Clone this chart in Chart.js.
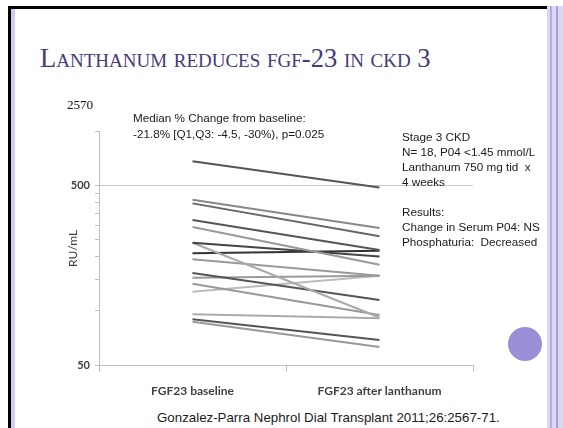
<!DOCTYPE html>
<html>
<head>
<meta charset="utf-8">
<script src="https://cdn.jsdelivr.net/npm/chart.js@4.4.1/dist/chart.umd.min.js"></script>
<style>
  html, body { margin: 0; padding: 0; background: #fff; }
  #slide { position: relative; width: 563px; height: 428px; overflow: hidden; background: #fff; font-family: "Liberation Sans", Arial, sans-serif; color: #222; }
  .frame-top { position: absolute; left: 8px; top: 6px; width: 539px; height: 3px; background: #000; }
  .frame-left { position: absolute; left: 8px; top: 6px; width: 3px; height: 422px; background: #000; }
  .frame-left-in { position: absolute; left: 11px; top: 9px; width: 4px; height: 419px; background: #d0ccec; }
  .frame-right { position: absolute; left: 547px; top: 6px; width: 16px; height: 422px;
    background: linear-gradient(to right, #dcd8f2 0 3px, #b6aee0 3px 5px, #dcd8f2 5px 9px, #a9a0da 9px 11px, #dcd8f2 11px 16px); }
  .title { position: absolute; left: 40px; top: 43px; font-family: "Liberation Serif", serif; font-size: 26.6px; font-variant: small-caps; color: #463a78; white-space: nowrap; }
  .odd { position: absolute; left: 67px; top: 97px; font-family: "Liberation Serif", serif; font-size: 13px; color: #111; }
  .note { position: absolute; font-size: 11.7px; line-height: 15.5px; white-space: nowrap; color: #1a1a1a; }
  .cite { position: absolute; left: 157px; top: 410px; font-size: 13.3px; white-space: nowrap; color: #1a1a1a; }
  .dot { position: absolute; left: 508px; top: 327px; width: 34px; height: 34px; border-radius: 50%; background: #9a8fd6; }
  #wrap { position: absolute; left: 40px; top: 120px; width: 440px; height: 290px; }
</style>
</head>
<body>
<div id="slide">
  <div class="frame-top"></div>
  <div class="frame-left"></div>
  <div class="frame-left-in"></div>
  <div class="frame-right"></div>
  <div class="title">Lanthanum reduces fgf-23 in ckd 3</div>
  <div class="odd">2570</div>
  <div id="wrap"><canvas id="chart"></canvas></div>
  <div class="note" style="left:133px; top:110px;">Median % Change from baseline:<br>-21.8% [Q1,Q3: -4.5, -30%), p=0.025</div>
  <div class="note" style="left:402px; top:129px; line-height:15px;">Stage 3 CKD<br>N= 18, P04 &lt;1.45 mmol/L<br>Lanthanum 750 mg tid&nbsp; x<br>4 weeks<br><br>Results:<br>Change in Serum P04: NS<br>Phosphaturia:&nbsp; Decreased</div>
  <div class="cite">Gonzalez-Parra Nephrol Dial Transplant 2011;26:2567-71.</div>
  <div class="dot"></div>
</div>
<script>
// categories and per-patient FGF-23 values (RU/mL)
const categories = ['FGF23 baseline', 'FGF23 after lanthanum'];
const baseline = [683, 417, 398, 322, 294, 240, 240, 210, 194, 163, 153, 142, 128, 96, 90, 87];
const afterLa  = [488, 290, 261, 219, 181, 201, 92, 217, 157, 115, 157, 95, 157, 91, 69, 63];
const lineColors = ['#555', '#888', '#666', '#555', '#999', '#444', '#aaa', '#333',
                    '#999', '#555', '#999', '#999', '#bbb', '#aaa', '#555', '#999'];

// y axis ticks: only 50 and 500 carry labels
const yTickValues = [50, 100, 150, 200, 250, 300, 350, 400, 450, 500, 1000];
const yTickLabels = ['50', '', '', '', '', '', '', '', '', '500', ''];

const axisGray = '#bfbfbf';
const labelFont = { family: 'Lato', size: 12, weight: 'bold' };

const datasets = baseline.map((b, i) => ({
    label: 'Patient ' + (i + 1),
    data: [b, afterLa[i]],
    borderColor: lineColors[i],
    borderWidth: 2,
    pointRadius: 0,
    pointHoverRadius: 3,
    fill: false,
    tension: 0
}));

new Chart(document.getElementById('chart').getContext('2d'), {
    type: 'line',
    data: { labels: categories, datasets: datasets },
    options: {
        responsive: true,
        maintainAspectRatio: false,
        animation: false,
        layout: { padding: { top: 8, right: 7, left: 0, bottom: 0 } },
        plugins: {
            legend: { display: false },
            tooltip: { intersect: false }
        },
        scales: {
            x: {
                offset: true,
                afterFit: (scale) => { scale.height = 45; },
                grid: { offset: true, drawOnChartArea: false, tickLength: 7, tickColor: axisGray },
                border: { color: axisGray },
                ticks: { padding: 12, color: '#404040', font: labelFont, maxRotation: 0 }
            },
            y: {
                type: 'logarithmic',
                min: 50,
                max: 1000,
                afterBuildTicks: (scale) => { scale.ticks = yTickValues.map(v => ({ value: v })); },
                afterFit: (scale) => { scale.width = 59; },
                ticks: {
                    autoSkip: false,
                    padding: 5,
                    color: '#404040',
                    font: { family: 'Lato', size: 11, weight: 'bold' },
                    callback: (value, index) => yTickLabels[index]
                },
                grid: {
                    tickLength: 4,
                    tickColor: axisGray,
                    color: (ctx) => (ctx.tick && ctx.tick.value === 500) ? '#c8c8c8' : 'rgba(0,0,0,0)'
                },
                border: { color: axisGray },
                title: {
                    display: true,
                    text: 'RU/mL',
                    color: '#404040',
                    font: { family: 'Lato', size: 12 },
                    padding: { top: 26, bottom: 0 }
                }
            }
        }
    }
});
</script>
</body>
</html>
